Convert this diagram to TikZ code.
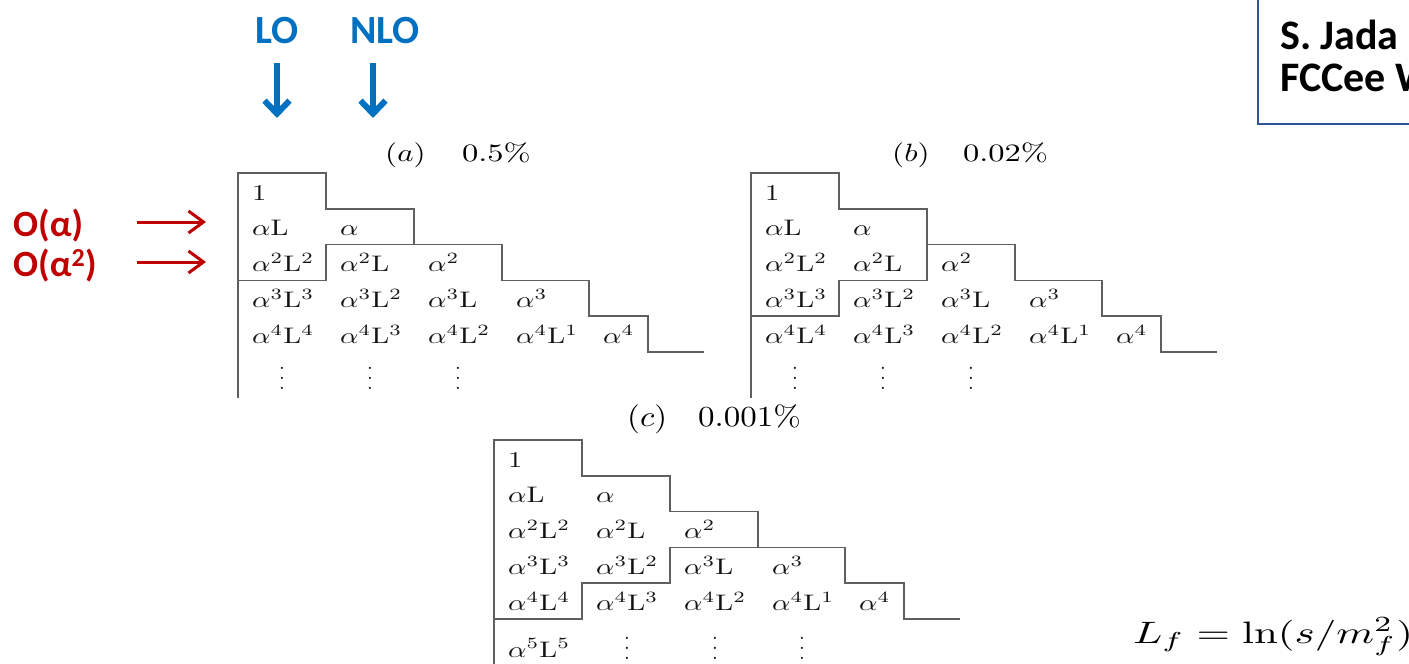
\documentclass[tikz,border=0pt]{standalone}
\usepackage{fontspec}
\usetikzlibrary{arrows.meta}
\newfontfamily\slidefont{Carlito}

\definecolor{loblue}{RGB}{0,112,192}
\definecolor{ordred}{RGB}{192,0,0}
\definecolor{gridgray}{RGB}{95,95,95}
\definecolor{boxblue}{RGB}{47,85,151}

% widened math used in the tables (set at 10pt, then scaled)
\newcommand\cellmath[1]{\scalebox{2.86}[2.25]{$#1$}}
% tall column of three dots
\newcommand\colvdots{\vbox{\baselineskip=10pt\lineskiplimit=0pt\hbox{.}\hbox{.}\hbox{.}}}

% the common entries of a table, named #1-row-col
\newcommand\tablebody[1]{%
  \node[entry] (#1-00) at (14,27)    {\cellmath{1}};
  \node[entry] (#1-10) at (14,62.8)  {\cellmath{\alpha\mathrm{L}}};
  \node[entry] (#1-11) at (102,62.8) {\cellmath{\alpha}};
  \node[entry] (#1-20) at (14,98.6)  {\cellmath{\alpha^2\mathrm{L}^2}};
  \node[entry] (#1-21) at (102,98.6) {\cellmath{\alpha^2\mathrm{L}}};
  \node[entry] (#1-22) at (190,98.6) {\cellmath{\alpha^2}};
  \node[entry] (#1-30) at (14,134.4)  {\cellmath{\alpha^3\mathrm{L}^3}};
  \node[entry] (#1-31) at (102,134.4) {\cellmath{\alpha^3\mathrm{L}^2}};
  \node[entry] (#1-32) at (190,134.4) {\cellmath{\alpha^3\mathrm{L}}};
  \node[entry] (#1-33) at (278,134.4) {\cellmath{\alpha^3}};
  \node[entry] (#1-40) at (14,170.8)  {\cellmath{\alpha^4\mathrm{L}^4}};
  \node[entry] (#1-41) at (102,170.8) {\cellmath{\alpha^4\mathrm{L}^3}};
  \node[entry] (#1-42) at (190,170.8) {\cellmath{\alpha^4\mathrm{L}^2}};
  \node[entry] (#1-43) at (278,170.8) {\cellmath{\alpha^4\mathrm{L}^1}};
  \node[entry] (#1-44) at (365,170.8) {\cellmath{\alpha^4}};
  % outer staircase
  \draw[rule] (0,0) -- (88,0) -- (88,36) -- (176,36) -- (176,71.6)
    -- (264,71.6) -- (264,107.4) -- (351,107.4) -- (351,143.2)
    -- (410,143.2) -- (410,179) -- (466,179);
}

\begin{document}
\begin{tikzpicture}[x=1pt,y=-1pt,
  entry/.style={anchor=base west, inner sep=0pt, text=black!92},
  dotcol/.style={inner sep=0pt, text=black!92, font=\fontsize{27}{30}\selectfont},
  rule/.style={draw=gridgray, line width=1.7pt},
  paneltitle/.style={anchor=base west, inner sep=0pt},
  orderlabel/.style={anchor=base west, inner sep=0pt, text=loblue,
    font=\slidefont\bfseries\fontsize{40}{48}\selectfont},
  alphalabel/.style={anchor=base west, inner sep=0pt, text=ordred,
    font=\slidefont\bfseries\fontsize{37}{42}\selectfont},
  bluearrow/.style={draw=loblue, line width=6pt,
    -{Straight Barb[length=13pt,width=25pt,line width=6pt]}},
  redarrow/.style={draw=ordred, line width=3pt,
    -{Straight Barb[length=15pt,width=22pt,line width=3pt]}},
  credit/.style={anchor=base west, inner sep=0pt, text=black,
    font=\slidefont\bfseries\fontsize{42}{48}\selectfont}]

\useasboundingbox (0,0) rectangle (1409,664);
\fill[white] (0,0) rectangle (1409,664);
\clip (0,0) rectangle (1409,664);

% column headers
\node[orderlabel] (lo)  at (255,43) {LO};
\node[orderlabel] (nlo) at (350,43) {NLO};
\coordinate (loTop)  at (277,63);
\coordinate (loTip)  at (277,118);
\coordinate (nloTop) at (373,63);
\coordinate (nloTip) at (373,118);
\draw[bluearrow] (loTop) -- (loTip);
\draw[bluearrow] (nloTop) -- (nloTip);

% row labels
\node[alphalabel] (oa1) at (13,236) {O(α)};
\node[alphalabel] (oa2) at (13,276) {O(α\textsuperscript{2})};
\coordinate (oa1From) at (137,222);
\coordinate (oa1To)   at (206,222);
\coordinate (oa2From) at (137,262);
\coordinate (oa2To)   at (206,262);
\draw[redarrow] (oa1From) -- (oa1To);
\draw[redarrow] (oa2From) -- (oa2To);

% table (a)
\node[paneltitle] (ta) at (385,161) {\scalebox{3.1}[2.5]{$(a)$}};
\node[paneltitle] (pa) at (462,161) {\scalebox{3.25}[2.5]{$0.5\%$}};
\begin{scope}[shift={(238,173)}]
  \tablebody{a}
  \draw[rule] (0,-0.8) -- (0,225);
  \draw[rule] (0,107.4) -- (88,107.4) -- (88,71.6) -- (176,71.6);
  \node[dotcol] (a-50) at (44,205)  {\colvdots};
  \node[dotcol] (a-51) at (132,205) {\colvdots};
  \node[dotcol] (a-52) at (220,205) {\colvdots};
\end{scope}

% table (b)
\node[paneltitle] (tb) at (892,161) {\scalebox{3.1}[2.5]{$(b)$}};
\node[paneltitle] (pb) at (963,161) {\scalebox{3.25}[2.5]{$0.02\%$}};
\begin{scope}[shift={(751,173)}]
  \tablebody{b}
  \draw[rule] (0,-0.8) -- (0,225);
  \draw[rule] (0,143.2) -- (88,143.2) -- (88,107.4) -- (176,107.4) -- (176,71.6);
  \node[dotcol] (b-50) at (44,205)  {\colvdots};
  \node[dotcol] (b-51) at (132,205) {\colvdots};
  \node[dotcol] (b-52) at (220,205) {\colvdots};
\end{scope}

% table (c)
\node[paneltitle] (tc) at (627,426) {\scalebox{3.3}[2.9]{$(c)$}};
\node[paneltitle] (pc) at (698,426) {\scalebox{3.3}[2.9]{$0.001\%$}};
\begin{scope}[shift={(494,440)}]
  \tablebody{c}
  \draw[rule] (0,-0.8) -- (0,230);
  \draw[rule] (0,179) -- (88,179) -- (88,143.2) -- (176,143.2)
    -- (176,107.4) -- (264,107.4);
  \node[entry] (c-50) at (14,217) {\cellmath{\alpha^5\mathrm{L}^5}};
  \node[dotcol] (c-51) at (133,208) {\colvdots};
  \node[dotcol] (c-52) at (221,208) {\colvdots};
  \node[dotcol] (c-53) at (308,208) {\colvdots};
\end{scope}

% reference box
\draw[boxblue, line width=2pt] (1258,-10) rectangle (1430,124);
\node[credit] (cr1) at (1280,49) {S. Jada};
\node[credit] (cr2) at (1280,91) {FCCee W};

% definition of L
\node[anchor=base west, inner sep=0pt] (lf)
  at (1133,643) {\scalebox{4.3}[3.1]{$L_f=\ln(s/m_f^2)$}};
\end{tikzpicture}
\end{document}
